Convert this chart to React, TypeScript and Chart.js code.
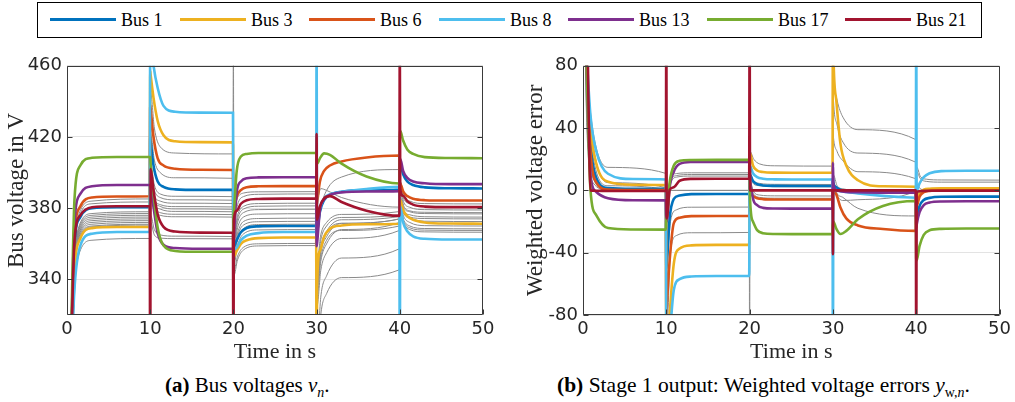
import React, { useEffect, useRef } from "react";
import { Chart, registerables } from "chart.js";
Chart.register(...registerables);

// ---------- data ----------
const SEGMENT_STARTS = [0, 10, 20, 30, 40];
const COLOR_OFFSETS = [0, 0.05, 0.4, 0.9, 1.6, 3, 6, 9.95];
const GRAY_OFFSETS = [0, 0.05, 0.5, 1.2, 3, 9.95];

const BUS_LABELS = ["Bus 1", "Bus 3", "Bus 6", "Bus 8", "Bus 13", "Bus 17", "Bus 21"];
const BUS_COLORS = ["#0072BD", "#EDB120", "#D95319", "#4DBEEE", "#7E2F8E", "#77AC30", "#A2142F"];

const X_TICKS = [0, 10, 20, 30, 40, 50];
const VOLT_TICKS = [340, 380, 420, 460];
const ERR_TICKS = [-80, -40, 0, 40, 80];

// Bus voltages (V), 8 samples per 10 s segment
const voltBus1 = [
  250, 250, 285, 360, 375, 380, 380.5, 380.6,
  420, 418, 404, 395, 392, 390.6, 390.3, 390.3,
  357, 358, 362, 366.5, 368.9, 369.8, 370, 370,
  365, 366, 378, 384.5, 387.5, 389.2, 390, 390.5,
  405, 405, 399, 395, 393, 391.7, 391.2, 391.1,
];
const voltBus3 = [
  250, 250, 285, 345, 363, 368.8, 369.4, 369.5,
  457, 455, 442, 429, 421, 417.6, 417.1, 417,
  353, 353, 356, 360, 362, 363.2, 363.5, 363.5,
  250, 335, 356, 364, 368.5, 370.3, 371, 371.3,
  384.6, 384.6, 379, 375.5, 373.5, 372, 371.4, 371.3,
];
const voltBus6 = [
  250, 250, 285, 365, 381, 386, 386.6, 386.7,
  438, 436, 420, 408, 404, 402.2, 401.6, 401.5,
  376, 378, 386.5, 390.2, 391.8, 392.3, 392.4, 392.4,
  382, 383, 395, 401, 404, 406.3, 408.5, 409.6,
  393.9, 393.9, 389.5, 386.8, 385.3, 384.5, 384.3, 384.3,
];
const voltBus8 = [
  250, 250, 280, 335, 359, 365.7, 366.6, 366.7,
  480, 475, 460, 447.5, 437.5, 434.2, 433.7, 433.6,
  358, 356.9, 358, 362, 364.6, 366, 366.6, 366.7,
  480, 372, 380, 385.5, 387.8, 389.2, 390.8, 392,
  250, 381, 372, 367, 364.2, 362.8, 362.4, 362.4,
];
const voltBus13 = [
  250, 250, 285, 372, 388, 392.3, 393, 393,
  393, 392, 380.6, 366, 359.5, 357.6, 357.2, 357.2,
  357.2, 362, 389, 395, 396.8, 397.3, 397.4, 397.4,
  358.7, 360, 379, 385, 387.5, 388.9, 389.4, 389.6,
  407.8, 407.8, 401, 397, 395, 394, 393.5, 393.5,
];
const voltBus17 = [
  250, 250, 290, 385, 404, 408.3, 408.8, 408.8,
  408.8, 405, 388, 369, 359, 356, 355.5, 355.5,
  375, 378, 401, 409, 410.5, 411, 411, 411,
  405, 405, 408, 410.8, 410, 405, 397.8, 393.9,
  423.5, 423.5, 418, 413, 410.5, 408.7, 408.2, 408.1,
];
const voltBus21 = [
  250, 250, 285, 362, 376, 380.5, 381.1, 381.1,
  250, 402, 390, 376.5, 369.5, 366.9, 366.3, 366.2,
  250, 373, 378.5, 382.5, 384.5, 385.2, 385.4, 385.4,
  421.7, 373.5, 381, 385.5, 386.8, 383.5, 378.6, 375.7,
  480, 391, 387, 384, 382, 380.9, 380.6, 380.6,
];
// other buses (grey), 6 samples per segment
const voltOtherBuses = [
  [250, 250, 290, 373, 384, 385.2, 385.2, 445, 425, 414.5, 411, 410.5, 480, 380, 386, 388.5, 389.2, 389.3, 365, 365, 380, 390, 397.5, 401.7, 395, 395, 387, 384, 382.6, 382.4],
  [250, 250, 290, 371, 382.5, 383.5, 383.5, 422, 407, 400, 397.1, 396.8, 370, 370, 382, 386.5, 387.8, 388, 385, 385, 391, 390, 386, 380.6, 392, 392, 385, 382.5, 381.1, 380.9],
  [250, 250, 290, 366, 377, 378, 378, 405, 393, 388, 386.7, 386.5, 365, 365, 376, 381, 382.6, 382.8, 350, 350, 365, 372, 376.5, 378.1, 390, 390, 383, 380.5, 379.2, 379],
  [250, 250, 290, 365, 376, 377, 377, 400, 390, 386, 384.7, 384.5, 362, 362, 374, 379.5, 381.1, 381.3, 345, 345, 362, 370, 374.8, 376.3, 386, 386, 380, 378, 377, 376.8],
  [250, 250, 290, 364, 375, 376, 376, 396, 387, 384, 382.8, 382.6, 360, 360, 372, 377.5, 379.2, 379.4, 340, 340, 358, 367, 373.5, 375.4, 384, 384, 378, 376.3, 375.2, 375],
  [250, 250, 290, 363, 374, 375, 375, 393, 385, 382, 380.9, 380.7, 357, 357, 369, 375, 376.7, 376.9, 336, 336, 355, 364, 371.5, 374, 383, 383, 377, 375, 374.2, 374],
  [250, 250, 290, 362, 373, 374, 374, 392, 384, 381, 379.6, 379.4, 355, 355, 366, 372.5, 374.2, 374.4, 330, 330, 350, 360, 368, 372, 380, 380, 373, 370, 368.6, 368.4],
  [250, 250, 290, 361, 372, 373, 373, 390, 382, 379.5, 378.2, 378, 352, 352, 364, 370.5, 372.4, 372.6, 325, 325, 345, 355, 363, 367.5, 379, 379, 372, 369, 367.7, 367.5],
  [250, 250, 290, 360, 371, 372, 372, 388, 380.5, 377.5, 376.6, 376.4, 350, 350, 362, 368.5, 370.8, 371, 300, 300, 330, 342, 352, 357.2, 377, 377, 371, 368, 366.7, 366.5],
  [250, 250, 290, 359, 370, 371, 371, 385, 378.5, 376, 375.2, 375, 348, 348, 359, 365.5, 367.8, 368, 290, 290, 320, 332, 341, 345.4, 382, 382, 375, 372, 370.2, 370],
  [250, 250, 290, 358, 369.5, 370.5, 370.5, 376, 368, 365, 364.3, 364.1, 345, 345, 353, 358, 360, 360.2, 338, 338, 356, 366, 371.5, 374, 385, 385, 377, 374.5, 372.7, 372.5],
  [250, 250, 290, 350, 362, 363, 363, 372, 365, 363.2, 362.9, 362.8, 342, 342, 351, 356.5, 358.8, 359, 335, 335, 352, 362, 367.5, 370, 388, 388, 381, 378.5, 377.7, 377.5],
];

// Weighted voltage errors
const errBus1 = [
  120, 120, 85, 30, 8, 1.5, 1, 1,
  -50, -48, -18, -5.5, -3.3, -2.4, -2.3, -2.3,
  10, 10, 6, 4, 3.2, 2.9, 2.8, 2.8,
  8, 5, 2, 0.5, -0.2, -0.8, -1.2, -1.4,
  -20, -18, -10, -6.2, -4.8, -4.1, -4, -4,
];
const errBus3 = [
  120, 120, 85, 40, 17, 5.5, 3.6, 3.4,
  -110, -110, -80, -47, -37.3, -35.3, -35, -35,
  24, 24, 16, 12.8, 11.8, 11.4, 11.3, 11.3,
  120, 90, 58, 30, 16, 6.5, 2.7, 2.3,
  -8, -8, -2, 0.5, 1.1, 1.3, 1.3, 1.3,
];
const errBus6 = [
  120, 120, 85, 25, 5, 0.5, 0.2, 0.2,
  -80, -75, -45, -21, -17.5, -16.5, -16.4, -16.4,
  -1, -1, -3.5, -5, -5.6, -5.8, -5.8, -5.8,
  -1, -1, -2.5, -11, -18, -22.5, -24.8, -26,
  -10, -10, -4, -1.2, -0.3, 0, 0, 0,
];
const errBus8 = [
  120, 120, 90, 48, 25, 10.7, 7.3, 7.0,
  -120, -120, -95, -64, -57, -55.3, -55, -55,
  15.6, 15.6, 11, 8.5, 7.5, 7.1, 7, 7,
  -120, 0, 0, -0.5, -1, -2, -3.5, -4.7,
  120, 0, 4.5, 8.5, 11, 12.4, 12.6, 12.6,
];
const errBus13 = [
  120, 120, 85, 10, -1, -5, -6.3, -6.4,
  -20, -20, 2, 12, 17, 18.2, 18.3, 18.3,
  18.3, 10, -5, -9.5, -11.2, -11.6, -11.7, -11.7,
  17.7, 5, 0, -0.5, -1, -1.2, -1.4, -1.5,
  -24, -22, -14, -9.5, -7.8, -7.1, -7, -7,
];
const errBus17 = [
  120, 120, 85, 0, -16, -24.2, -25.1, -25.2,
  -17.5, -17.5, 5, 16, 19, 19.5, 19.6, 19.6,
  19.6, -5, -20, -25.5, -27.5, -28, -28.1, -28.1,
  -20, -20, -24.5, -28, -26, -18.5, -10, -6.8,
  -45, -45, -35.6, -28.5, -25.6, -24.7, -24.5, -24.5,
];
const errBus21 = [
  120, 120, 120, 0, -0.2, -0.4, -0.4, -0.4,
  120, -18, 0.3, 2, 6.2, 7.4, 7.5, 7.5,
  120, 0, 0, 0, 0, 0, 0, 0,
  -41, 0, 0, 0, 0, 0, 0, 0,
  -120, -1, -0.5, -0.3, -0.2, -0.2, -0.2, -0.2,
];
const errOtherBuses = [
  [120, 120, 75, 38, 14.8, 10.9, -5, -5, 8, 10.8, 11.3, 11.3, 25, 25, 20, 17, 15.8, 15.6, 85, 75, 58, 47, 39, 32.6, 15, 15, 9, 7.2, 6.7, 6.6],
  [120, 120, 70, 30, 5, 1.7, -8, -8, 6, 9.5, 10.2, 10.2, 10, 10, 6, 4.5, 3.9, 3.8, 70, 60, 42, 31, 24, 18.1, 12, 12, 7.5, 5.8, 5.3, 5.3],
  [120, 120, 60, 22, 3, 0.6, -10, -10, 4, 8.5, 9.2, 9.2, 8, 8, 4, 3, 2.4, 2.3, 40, 35, 25, 19, 12, 7.5, -3, -3, -0.5, 0.3, 0.5, 0.5],
  [120, 120, 50, 15, 1.5, 0.3, 0, 0, 0, 0, 0, 0, 0, 0, 0, 0, 0, 0, 5, 5, -3, -6.5, -6, -0.5, 0, 0, 0, 0, 0, 0],
  [120, 120, 45, 10, 0.5, 0, -45, -45, -20, -12.5, -10.8, -10.7, 5, 5, -1, -3, -3.5, -3.6, 5, 5, -2, -4.5, -11.5, -16.4, -6, -6, -1.5, -0.3, 0, 0],
  [120, 120, 40, 8, 0, -0.3, -90, -90, -40, -29, -27.2, -27, 3, 3, -2.5, -4.5, -5, -5.1, 10, 10, 3, 1, 0.2, 0, 4, 4, 1, 0.2, 0, 0],
  [120, 120, 35, 5, 0.2, 0, -120, 0, 0, 0, 0, 0, -120, 0, 0, 0, 0, 0, 0, 0, 0, 0, 0, 0, 0, 0, 0, 0, 0, 0],
];

const VOLT_BUSES = [voltBus1, voltBus3, voltBus6, voltBus8, voltBus13, voltBus17, voltBus21];
const ERR_BUSES = [errBus1, errBus3, errBus6, errBus8, errBus13, errBus17, errBus21];

// ---------- helpers ----------
const timeGrid = (offsets: number[]) => SEGMENT_STARTS.flatMap((s) => offsets.map((o) => s + o));
const toPoints = (values: number[], offsets: number[]) => {
  const ts = timeGrid(offsets);
  return values.map((v, i) => ({ x: ts[i], y: v }));
};

const TICK_FONT = { family: "'DejaVu Sans', sans-serif", size: 18 };
const X_TITLE_FONT = { family: "'Liberation Serif', serif", size: 22 };
const Y_TITLE_FONT = { family: "'Liberation Serif', serif", size: 23 };
const AXIS_COLOR = "#262626";

const axesBoxPlugin = {
  id: "axesBox",
  afterDraw(chart: any) {
    const { ctx, chartArea: a, scales } = chart;
    const L = Math.round(a.left) + 0.5;
    const R = Math.round(a.right) - 0.5;
    const T = Math.round(a.top) + 0.5;
    const B = Math.round(a.bottom) - 0.5;
    ctx.save();
    ctx.strokeStyle = "#3a3a3a";
    ctx.lineWidth = 1;
    ctx.beginPath();
    ctx.rect(L, T, R - L, B - T);
    const len = 5;
    scales.y.ticks.forEach((t: any) => {
      const y = Math.round(scales.y.getPixelForValue(t.value)) + 0.5;
      ctx.moveTo(L, y);
      ctx.lineTo(L + len, y);
      ctx.moveTo(R, y);
      ctx.lineTo(R - len, y);
    });
    scales.x.ticks.forEach((t: any) => {
      const x = Math.round(scales.x.getPixelForValue(t.value)) + 0.5;
      ctx.moveTo(x, B);
      ctx.lineTo(x, B - len);
    });
    ctx.stroke();
    ctx.restore();
  },
};

function buildConfig(
  buses: number[][],
  others: number[][],
  yMin: number,
  yMax: number,
  yTicks: number[],
  yTitle: string,
  yWidth: number,
  yTitlePad: number,
  pad: { top: number; right: number }
): any {
  const grayDatasets = others.map((vals) => ({
    data: toPoints(vals, GRAY_OFFSETS),
    borderColor: "#8a8a8a",
    borderWidth: 1,
    order: 100,
  }));
  const colorDatasets = buses.map((vals, i) => ({
    label: BUS_LABELS[i],
    data: toPoints(vals, COLOR_OFFSETS),
    borderColor: BUS_COLORS[i],
    borderWidth: 2.6,
    order: 10 - i,
  }));
  return {
    type: "line",
    data: { datasets: [...grayDatasets, ...colorDatasets] },
    options: {
      responsive: false,
      animation: false,
      layout: { padding: { top: pad.top, right: pad.right, bottom: 0, left: 0 } },
      plugins: { legend: { display: false }, tooltip: { enabled: false } },
      elements: {
        point: { radius: 0 },
        line: { cubicInterpolationMode: "monotone", borderCapStyle: "butt" },
      },
      scales: {
        x: {
          type: "linear",
          min: 0,
          max: 50,
          afterBuildTicks: (s: any) => {
            s.ticks = X_TICKS.map((v) => ({ value: v }));
          },
          afterFit: (s: any) => {
            s.height = 50;
          },
          grid: { display: false, drawTicks: false },
          border: { display: false },
          ticks: { font: TICK_FONT, color: AXIS_COLOR, padding: 4, maxRotation: 0, autoSkip: false },
          title: {
            display: true,
            text: "Time in s",
            font: X_TITLE_FONT,
            color: AXIS_COLOR,
            padding: { top: 0, bottom: 0 },
          },
        },
        y: {
          type: "linear",
          min: yMin,
          max: yMax,
          afterBuildTicks: (s: any) => {
            s.ticks = yTicks.map((v) => ({ value: v }));
          },
          afterFit: (s: any) => {
            s.width = yWidth;
          },
          grid: { color: "#e3e3e3", drawTicks: false, lineWidth: 1 },
          border: { display: false },
          ticks: { font: TICK_FONT, color: AXIS_COLOR, padding: 5, autoSkip: false },
          title: {
            display: true,
            text: yTitle,
            font: Y_TITLE_FONT,
            color: AXIS_COLOR,
            padding: { top: yTitlePad, bottom: 0 },
          },
        },
      },
    },
    plugins: [axesBoxPlugin],
  };
}

function ChartCanvas({ config, left, top, width, height }: any) {
  const ref = useRef<HTMLCanvasElement | null>(null);
  useEffect(() => {
    if (!ref.current) return;
    const chart = new Chart(ref.current, config);
    return () => chart.destroy();
  }, [config]);
  return (
    <canvas
      ref={ref}
      width={width}
      height={height}
      style={{ position: "absolute", left, top, width, height, display: "block" }}
    />
  );
}

const LEGEND_X = [50, 180, 309, 439, 568, 707, 845];

const voltConfig = buildConfig(VOLT_BUSES, voltOtherBuses, 320, 460, VOLT_TICKS, "Bus voltage in V", 67, 3, { top: 15, right: 17 });
const errConfig = buildConfig(ERR_BUSES, errOtherBuses, -80, 80, ERR_TICKS, "Weighted voltage error", 83, 22, { top: 14, right: 15 });

export default function App() {
  const serif = "'Liberation Serif', serif";
  return (
    <div style={{ position: "absolute", left: 0, top: 0, width: 1015, height: 402, background: "#fff", overflow: "hidden" }}>
      <div
        style={{
          position: "absolute",
          left: 37,
          top: 2,
          width: 945,
          height: 36,
          border: "1px solid #000",
          boxSizing: "border-box",
        }}
      />
      {BUS_LABELS.map((lab, i) => (
        <React.Fragment key={lab}>
          <div
            style={{
              position: "absolute",
              left: LEGEND_X[i],
              top: 18,
              width: 66,
              height: 3,
              background: BUS_COLORS[i],
            }}
          />
          <div
            style={{
              position: "absolute",
              left: LEGEND_X[i] + 71,
              top: 8,
              height: 24,
              lineHeight: "24px",
              fontFamily: serif,
              fontSize: 18,
              color: "#000",
              whiteSpace: "nowrap",
            }}
          >
            {lab}
          </div>
        </React.Fragment>
      ))}
      <ChartCanvas config={voltConfig} left={0} top={50} width={500} height={315} />
      <ChartCanvas config={errConfig} left={500} top={50} width={515} height={315} />
      <div
        style={{
          position: "absolute",
          left: 165,
          top: 372,
          fontFamily: serif,
          fontSize: 21,
          lineHeight: "26px",
          whiteSpace: "nowrap",
          color: "#000",
        }}
      >
        <b>(a)</b> Bus voltages <i>v</i>
        <sub style={{ fontSize: 14, fontStyle: "italic" }}>n</sub>.
      </div>
      <div
        style={{
          position: "absolute",
          left: 557,
          top: 372,
          fontFamily: serif,
          fontSize: 21.5,
          lineHeight: "26px",
          whiteSpace: "nowrap",
          color: "#000",
        }}
      >
        <b>(b)</b> Stage 1 output: Weighted voltage errors <i>y</i>
        <sub style={{ fontSize: 14 }}>
          w,<i>n</i>
        </sub>
        .
      </div>
    </div>
  );
}
